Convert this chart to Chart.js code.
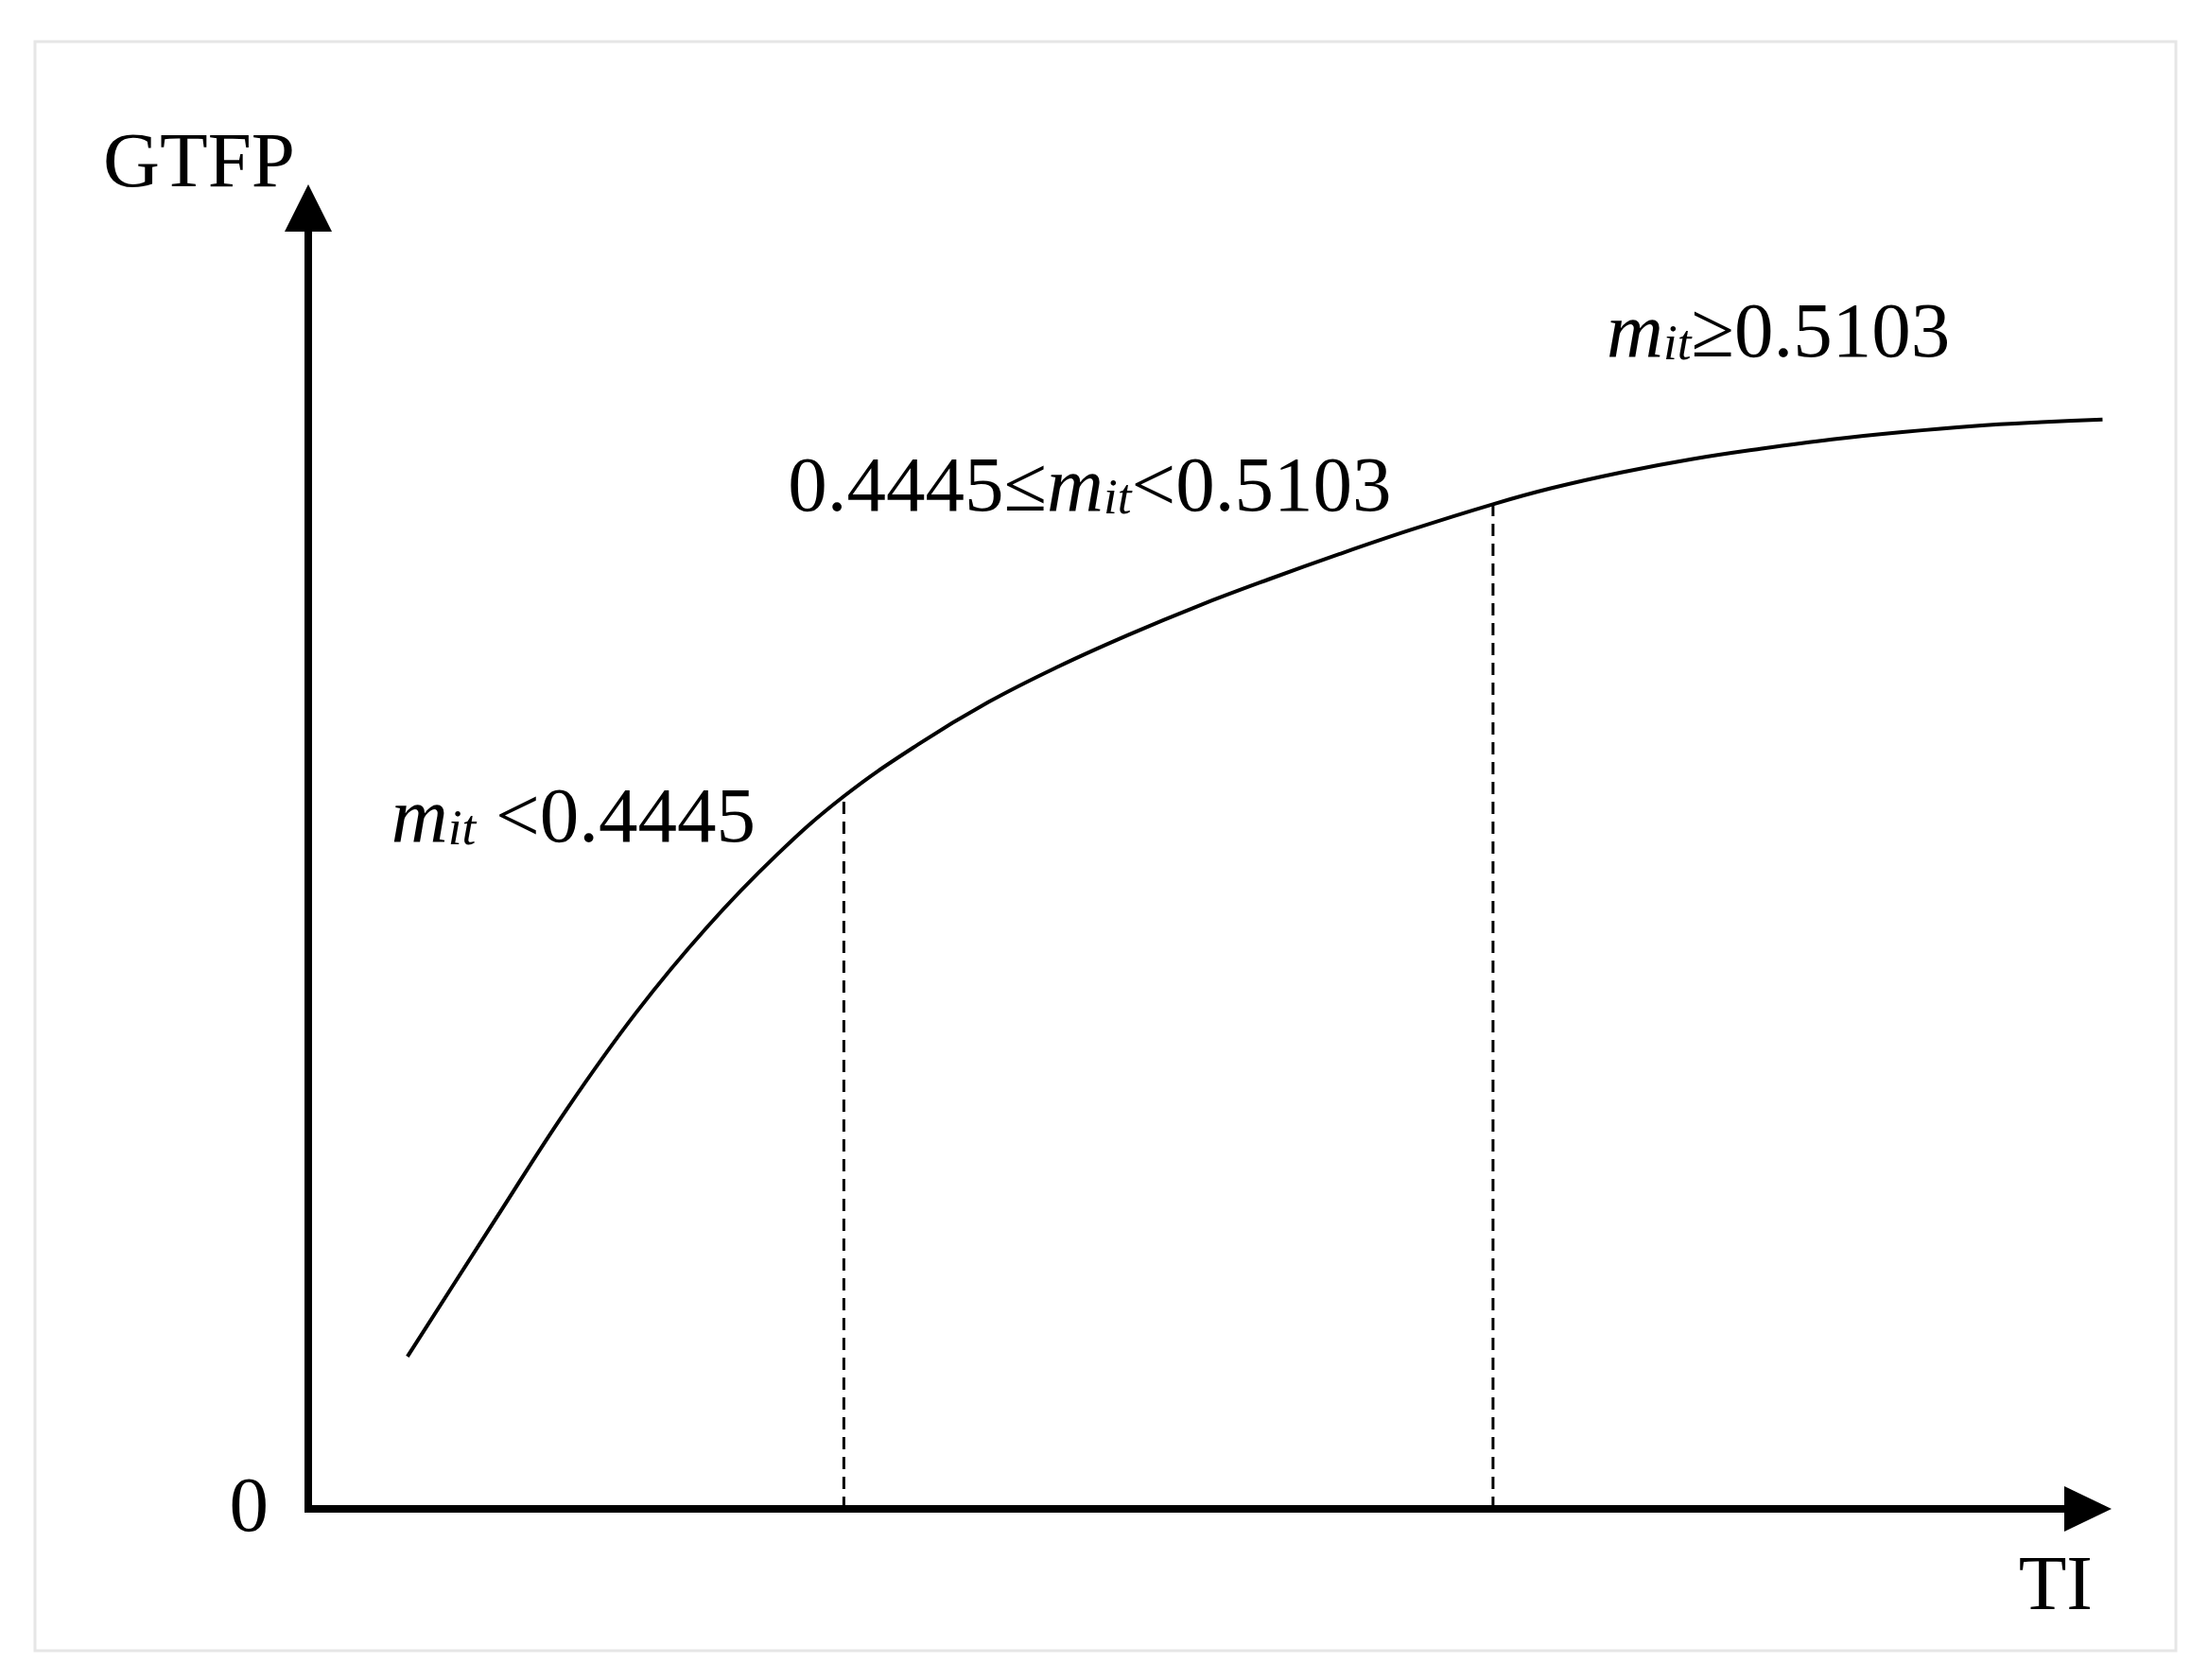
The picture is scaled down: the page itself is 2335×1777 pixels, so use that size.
<!DOCTYPE html>
<html>
<head>
<meta charset="utf-8">
<title>GTFP - TI</title>
<script src="https://cdn.jsdelivr.net/npm/chart.js@4"></script>
<style>
  html, body { margin: 0; padding: 0; background: #fff; }
  #wrap { width: 2335px; height: 1777px; position: relative; }
</style>
</head>
<body>
<div id="wrap"><canvas id="grafico"></canvas></div>
<script>
// Datos (unidades del eje: 0-100)
const tiValues = [5.5, 10.4, 14.3, 18.2, 22.1, 26.0, 29.7, 33.8, 37.7, 41.6, 45.5, 49.4, 53.3,
  57.2, 61.1, 65.7, 68.9, 72.8, 76.7, 80.6, 84.5, 88.4, 92.3, 96.1, 99.5];
const gtfpValues = [11.5, 21.9, 30.1, 37.5, 43.9, 49.4, 53.8, 57.7, 60.9, 63.6, 66.0, 68.2, 70.2,
  72.1, 73.9, 75.85, 77.05, 78.25, 79.25, 80.05, 80.75, 81.3, 81.75, 82.05, 82.25];
// índices de los umbrales (líneas punteadas)
const thresholdIdx = [6, 15];
const axisNames = ['TI', 'GTFP'];
const originLabel = '0';
const regimeLabels = [
  [{ t: 'm', i: true }, { t: 'it', i: true, sub: true }, { t: ' <0.4445' }],
  [{ t: '0.4445≤' }, { t: 'm', i: true }, { t: 'it', i: true, sub: true }, { t: '<0.5103' }],
  [{ t: 'm', i: true }, { t: 'it', i: true, sub: true }, { t: '≥0.5103' }]
];

const FONT = '"Liberation Serif", "Times New Roman", serif';
const FS = 83;

function dibujarTexto(ctx, x, y, runs) {
  let cx = x;
  runs.forEach(r => {
    const size = r.sub ? FS * 0.64 : FS;
    ctx.font = (r.i ? 'italic ' : '') + size + 'px ' + FONT;
    ctx.fillText(r.t, cx, y + (r.sub ? 3 : 0));
    cx += ctx.measureText(r.t).width;
  });
}

const ejesYTextos = {
  id: 'ejesYTextos',
  beforeDraw(chart) {
    const ctx = chart.ctx;
    ctx.save();
    ctx.strokeStyle = '#e6e6e6';
    ctx.lineWidth = 3;
    ctx.strokeRect(37, 44, 2264, 1702);
    ctx.restore();
  },
  afterDraw(chart) {
    const ctx = chart.ctx;
    const xs = chart.scales.x, ys = chart.scales.y;
    const x0 = xs.getPixelForValue(0), y0 = ys.getPixelForValue(0);
    const xEnd = xs.getPixelForValue(100), yEnd = ys.getPixelForValue(100);
    ctx.save();
    ctx.fillStyle = '#000';
    ctx.strokeStyle = '#000';
    ctx.lineWidth = 8;
    ctx.lineCap = 'butt';
    // eje Y
    ctx.beginPath();
    ctx.moveTo(x0, y0 + 4);
    ctx.lineTo(x0, yEnd + 40);
    ctx.stroke();
    ctx.beginPath();
    ctx.moveTo(x0, yEnd);
    ctx.lineTo(x0 - 25, yEnd + 50);
    ctx.lineTo(x0 + 25, yEnd + 50);
    ctx.closePath();
    ctx.fill();
    // eje X
    ctx.beginPath();
    ctx.moveTo(x0 - 4, y0);
    ctx.lineTo(xEnd - 40, y0);
    ctx.stroke();
    ctx.beginPath();
    ctx.moveTo(xEnd, y0);
    ctx.lineTo(xEnd - 50, y0 - 24);
    ctx.lineTo(xEnd - 50, y0 + 24);
    ctx.closePath();
    ctx.fill();

    // textos
    ctx.textBaseline = 'alphabetic';
    ctx.font = FS + 'px ' + FONT;
    ctx.textAlign = 'right';
    ctx.fillText(axisNames[1], x0 - 14, yEnd + 2);
    ctx.fillText(originLabel, x0 - 42, y0 + 23);
    ctx.fillText(axisNames[0], xEnd - 20, y0 + 106);
    ctx.textAlign = 'left';
    const pos = [[4.6, 50.4], [26.6, 75.4], [72.0, 87.0]];
    regimeLabels.forEach((runs, i) => {
      dibujarTexto(ctx, xs.getPixelForValue(pos[i][0]), ys.getPixelForValue(pos[i][1]), runs);
    });
    ctx.restore();
  }
};

const curva = tiValues.map((v, i) => ({ x: v, y: gtfpValues[i] }));
const punteadas = thresholdIdx.map(i => ({
  data: [{ x: tiValues[i], y: 0 }, { x: tiValues[i], y: gtfpValues[i] }],
  borderColor: '#000',
  borderWidth: 3,
  borderDash: [13, 8],
  pointRadius: 0,
  tension: 0,
  clip: false
}));

const ctx = document.getElementById('grafico').getContext('2d');
new Chart(ctx, {
  type: 'line',
  data: {
    datasets: [{
      label: 'GTFP',
      data: curva,
      borderColor: '#000',
      borderWidth: 4,
      pointRadius: 0,
      tension: 0.4,
      clip: false
    }, ...punteadas]
  },
  options: {
    responsive: true,
    maintainAspectRatio: false,
    animation: false,
    events: [],
    layout: { padding: { left: 326, right: 102, top: 195, bottom: 181 } },
    plugins: { legend: { display: false }, tooltip: { enabled: false } },
    scales: {
      x: { type: 'linear', min: 0, max: 100, display: false },
      y: { type: 'linear', min: 0, max: 100, display: false }
    }
  },
  plugins: [ejesYTextos]
});
</script>
</body>
</html>
